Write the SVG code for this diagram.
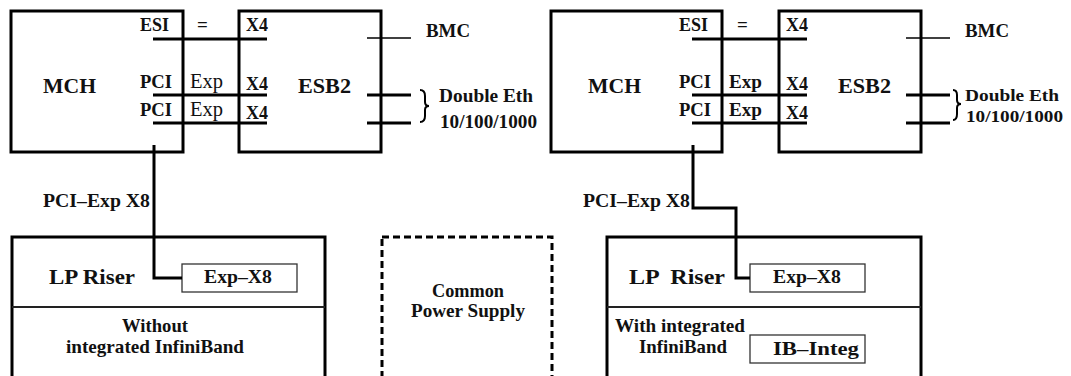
<svg xmlns="http://www.w3.org/2000/svg" width="1071" height="376" viewBox="0 0 1071 376">
<style>
.box{fill:none;stroke:#000;stroke-width:3}
.dash{fill:none;stroke:#000;stroke-width:3;stroke-dasharray:7,4}
.small{fill:#fff;stroke:#333;stroke-width:1.3}
.div{stroke:#222;stroke-width:2}
.w{fill:none;stroke:#000;stroke-width:3}
.thin{fill:none;stroke:#000;stroke-width:1.3}
.br{fill:none;stroke:#000;stroke-width:2}
text{font-family:"Liberation Serif","Times New Roman",serif;font-weight:bold;fill:#111;font-size:19px}
.big{font-size:22px}
.reg{font-weight:normal;font-size:20px}
.tight{font-size:17.5px}
</style>
<rect width="1071" height="376" fill="#fff"/>

<g id="mch-left">
<rect class="box" x="11" y="11" width="172" height="141"/>
<text x="43" y="93" class="big" textLength="53" lengthAdjust="spacingAndGlyphs">MCH</text>
<text x="140" y="31" textLength="29" lengthAdjust="spacingAndGlyphs">ESI</text>
<text x="140" y="88" textLength="32" lengthAdjust="spacingAndGlyphs">PCI</text>
<text x="140" y="116" textLength="32" lengthAdjust="spacingAndGlyphs">PCI</text>
</g>
<g id="link-left">
<text x="197" y="31">=</text>
<text x="190" y="88" class="reg" textLength="33" lengthAdjust="spacingAndGlyphs">Exp</text>
<text x="190" y="116" class="reg" textLength="33" lengthAdjust="spacingAndGlyphs">Exp</text>
</g>
<g id="esb2-left">
<rect class="box" x="239" y="11" width="142" height="141"/>
<text x="298" y="93" class="big" textLength="53" lengthAdjust="spacingAndGlyphs">ESB2</text>
<text x="246" y="31" textLength="22" lengthAdjust="spacingAndGlyphs">X4</text>
<text x="246" y="90" textLength="22" lengthAdjust="spacingAndGlyphs">X4</text>
<text x="246" y="119" textLength="22" lengthAdjust="spacingAndGlyphs">X4</text>
</g>
<g id="io-left">
<text x="426" y="37" textLength="44" lengthAdjust="spacingAndGlyphs">BMC</text>
<path class="br" d="M420,90 Q425,90 425,96 L425,102 Q425,106 429,106 Q425,106 425,110 L425,116 Q425,122 420,122"/>
<text x="439" y="102" textLength="94" lengthAdjust="spacingAndGlyphs">Double Eth</text>
<text x="440" y="128" textLength="97" lengthAdjust="spacingAndGlyphs">10/100/1000</text>
</g>
<g id="riser-left">
<rect class="box" x="12" y="237" width="313" height="170"/>
<line class="div" x1="12" y1="307" x2="325" y2="307"/>
<text x="49" y="284" class="big" textLength="86" lengthAdjust="spacingAndGlyphs">LP Riser</text>
<rect class="small" x="182" y="264" width="115" height="28"/>
<text x="204" y="283" textLength="68" lengthAdjust="spacingAndGlyphs">Exp–X8</text>
<text x="122" y="332" textLength="66" lengthAdjust="spacingAndGlyphs">Without</text>
<text x="66" y="353" textLength="178" lengthAdjust="spacingAndGlyphs">integrated InfiniBand</text>
</g>
<g id="power">
<rect class="dash" x="382" y="237" width="170" height="170"/>
<text x="432" y="297" textLength="72" lengthAdjust="spacingAndGlyphs">Common</text>
<text x="411" y="317" textLength="114" lengthAdjust="spacingAndGlyphs">Power Supply</text>
</g>

<g id="mch-right">
<rect class="box" x="551" y="11" width="171" height="141"/>
<text x="588" y="93" class="big" textLength="53" lengthAdjust="spacingAndGlyphs">MCH</text>
<text x="679" y="31" textLength="29" lengthAdjust="spacingAndGlyphs">ESI</text>
<text x="679" y="88" textLength="32" lengthAdjust="spacingAndGlyphs">PCI</text>
<text x="679" y="116" textLength="32" lengthAdjust="spacingAndGlyphs">PCI</text>
</g>
<g id="link-right">
<text x="737" y="31">=</text>
<text x="729" y="88" textLength="33" lengthAdjust="spacingAndGlyphs">Exp</text>
<text x="729" y="116" textLength="33" lengthAdjust="spacingAndGlyphs">Exp</text>
</g>
<g id="esb2-right">
<rect class="box" x="779" y="11" width="142" height="141"/>
<text x="838" y="93" class="big" textLength="53" lengthAdjust="spacingAndGlyphs">ESB2</text>
<text x="786" y="31" textLength="22" lengthAdjust="spacingAndGlyphs">X4</text>
<text x="786" y="90" textLength="22" lengthAdjust="spacingAndGlyphs">X4</text>
<text x="786" y="119" textLength="22" lengthAdjust="spacingAndGlyphs">X4</text>
</g>
<g id="io-right">
<text x="965" y="37" textLength="44" lengthAdjust="spacingAndGlyphs">BMC</text>
<path class="br" d="M953,90 Q957,90 957,95 L957,100 Q957,104 961,104 Q957,104 957,108 L957,114 Q957,120 953,120"/>
<text x="965" y="101" class="tight" textLength="94" lengthAdjust="spacingAndGlyphs">Double Eth</text>
<text x="966" y="122" class="tight" textLength="97" lengthAdjust="spacingAndGlyphs">10/100/1000</text>
</g>
<g id="riser-right">
<rect class="box" x="607" y="237" width="314" height="170"/>
<line class="div" x1="607" y1="307" x2="921" y2="307"/>
<text x="629" y="284" class="big" textLength="96" lengthAdjust="spacingAndGlyphs" xml:space="preserve">LP  Riser</text>
<rect class="small" x="750" y="264" width="115" height="28"/>
<text x="773" y="283" textLength="68" lengthAdjust="spacingAndGlyphs">Exp–X8</text>
<text x="615" y="332" textLength="130" lengthAdjust="spacingAndGlyphs">With integrated</text>
<text x="639" y="353" textLength="88" lengthAdjust="spacingAndGlyphs">InfiniBand</text>
<rect class="small" x="750" y="335" width="115" height="28"/>
<text x="773" y="355" textLength="86" lengthAdjust="spacingAndGlyphs">IB–Integ</text>
</g>

<g id="connectors">
<line class="w" x1="153" y1="39" x2="267" y2="39"/>
<line class="w" x1="153" y1="95" x2="267" y2="95"/>
<line class="w" x1="153" y1="123" x2="267" y2="123"/>
<line class="thin" x1="367" y1="38" x2="411" y2="38"/>
<line class="w" x1="367" y1="95" x2="411" y2="95"/>
<line class="w" x1="367" y1="123" x2="411" y2="123"/>
<polyline class="w" points="154,145 154,278 182,278"/>
<text x="43" y="207" textLength="107" lengthAdjust="spacingAndGlyphs">PCI–Exp X8</text>

<line class="w" x1="692" y1="39" x2="807" y2="39"/>
<line class="w" x1="692" y1="95" x2="807" y2="95"/>
<line class="w" x1="692" y1="123" x2="807" y2="123"/>
<line class="thin" x1="906" y1="38" x2="950" y2="38"/>
<line class="w" x1="906" y1="95" x2="950" y2="95"/>
<line class="w" x1="906" y1="123" x2="950" y2="123"/>
<polyline class="w" points="693,145 693,208 736,208 736,278 750,278"/>
<text x="583" y="207" textLength="107" lengthAdjust="spacingAndGlyphs">PCI–Exp X8</text>
</g>
</svg>
